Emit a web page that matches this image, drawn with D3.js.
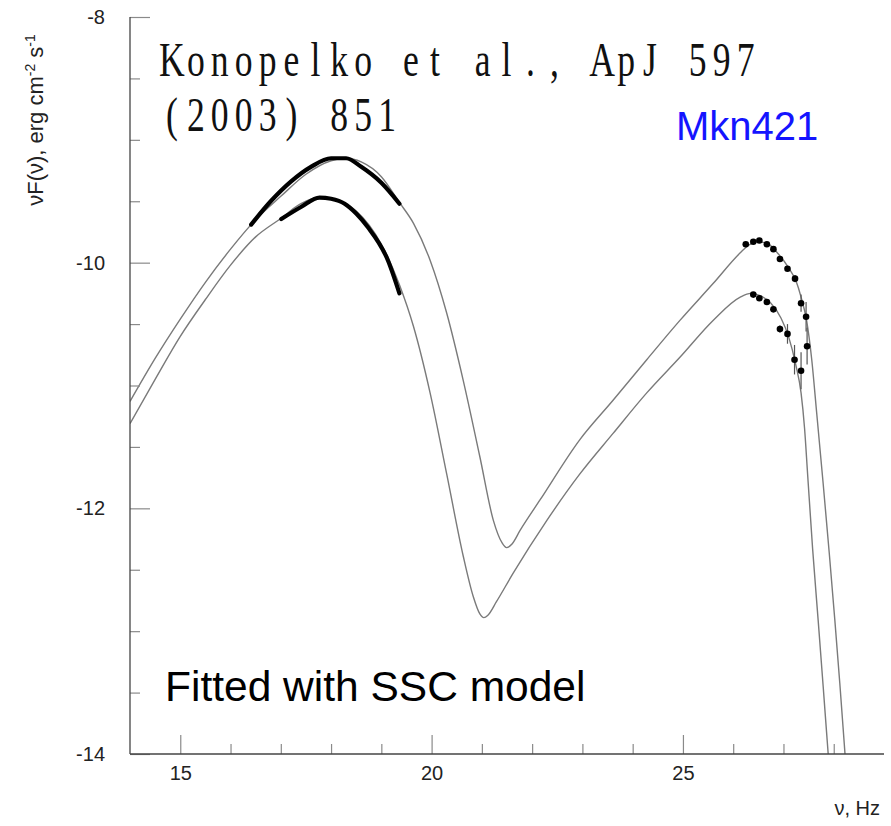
<!DOCTYPE html>
<html>
<head>
<meta charset="utf-8">
<script src="https://cdn.jsdelivr.net/npm/d3@7"></script>
<style>
  html, body { margin: 0; padding: 0; background: #fff; }
  svg { display: block; }
</style>
</head>
<body>
<svg id="chart" width="891" height="826"></svg>
<script>
// ---- data (log10 ν [Hz], log10 νF(ν) [erg cm^-2 s^-1]) ----
const upperModelX = [14.0, 14.5, 15.0, 15.5, 16.0, 16.5, 17.0, 17.5, 18.0, 18.3, 18.6, 19.0, 19.36, 19.64, 19.97, 20.30, 20.63, 20.96, 21.23, 21.40, 21.49, 21.60, 21.76, 22.16, 22.95, 23.61, 24.28, 24.94, 25.60, 26.14, 26.30, 26.50, 26.70, 26.90, 27.10, 27.25, 27.35, 27.46, 27.56, 27.66, 27.79, 27.91, 28.02, 28.12, 28.21, 28.26];
const upperModelY = [-11.13, -10.78, -10.46, -10.16, -9.89, -9.65, -9.46, -9.28, -9.17, -9.15, -9.18, -9.30, -9.51, -9.68, -9.98, -10.41, -10.96, -11.58, -12.10, -12.28, -12.32, -12.29, -12.18, -11.93, -11.44, -11.12, -10.79, -10.47, -10.17, -9.92, -9.86, -9.83, -9.85, -9.93, -10.04, -10.15, -10.28, -10.47, -10.78, -11.22, -11.80, -12.36, -12.90, -13.42, -13.92, -14.20];

const lowerModelX = [14.0, 14.5, 15.0, 15.5, 16.0, 16.5, 17.0, 17.4, 17.77, 18.1, 18.5, 19.0, 19.36, 19.64, 19.97, 20.30, 20.63, 20.83, 20.96, 21.04, 21.12, 21.29, 21.62, 22.29, 22.95, 23.61, 24.28, 24.94, 25.60, 26.14, 26.35, 26.55, 26.75, 26.95, 27.10, 27.25, 27.35, 27.42, 27.48, 27.58, 27.69, 27.79, 27.89, 27.95];
const lowerModelY = [-11.31, -10.95, -10.60, -10.30, -10.02, -9.79, -9.64, -9.52, -9.47, -9.49, -9.58, -9.85, -10.18, -10.52, -11.06, -11.72, -12.39, -12.72, -12.86, -12.89, -12.87, -12.76, -12.53, -12.10, -11.72, -11.39, -11.06, -10.77, -10.47, -10.28, -10.25, -10.27, -10.33, -10.45, -10.60, -10.84, -11.06, -11.35, -11.72, -12.33, -12.91, -13.45, -14.00, -14.30];

const upperXrayX = [16.41, 16.8, 17.2, 17.6, 18.0, 18.3, 18.6, 19.0, 19.36];
const upperXrayY = [-9.69, -9.50, -9.34, -9.22, -9.15, -9.15, -9.22, -9.35, -9.52];
const lowerXrayX = [17.01, 17.41, 17.77, 18.0, 18.27, 18.5, 18.73, 19.13, 19.36];
const lowerXrayY = [-9.645, -9.545, -9.47, -9.48, -9.52, -9.60, -9.71, -9.98, -10.25];

const upperTevX = [26.25, 26.40, 26.52, 26.67, 26.80, 26.93, 27.08, 27.23, 27.35, 27.45, 27.47];
const upperTevY = [-9.85, -9.83, -9.82, -9.85, -9.89, -9.97, -10.05, -10.13, -10.33, -10.44, -10.68];
const upperTevErr = [0, 0, 0, 0, 0, 0, 0, 0.03, 0.07, 0.12, 0.15];
const lowerTevX = [26.40, 26.52, 26.67, 26.80, 26.93, 27.08, 27.22, 27.35];
const lowerTevY = [-10.26, -10.29, -10.32, -10.38, -10.54, -10.58, -10.79, -10.88];
const lowerTevErr = [0, 0, 0, 0, 0.03, 0.08, 0.12, 0.15];

const xMajorTicks = [15, 20, 25];
const xMinorTicks = [16, 17, 18, 19, 21, 22, 23, 24, 26, 27, 28];
const yMajorTicks = [-14, -12, -10, -8];
const yMinorTicks = [-13.5, -13, -12.5, -11.5, -11, -10.5, -9.5, -9, -8.5];

const titleLines = ["Konopelko et al., ApJ 597", "(2003) 851"];
const sourceLabel = "Mkn421";
const noteLabel = "Fitted with SSC model";

// ---- drawing ----
const svg = d3.select("#chart");
const L = 130, R = 884, T = 17, B = 754;
const x = d3.scaleLinear().domain([14, 29]).range([L, R]);
const y = d3.scaleLinear().domain([-14, -8]).range([B, T]);

svg.append("defs").append("clipPath").attr("id", "plotclip")
  .append("rect").attr("x", L).attr("y", T).attr("width", R - L).attr("height", B - T);

const zip = (xs, ys) => xs.map((v, i) => [v, ys[i]]);
const line = d3.line().x(d => x(d[0])).y(d => y(d[1])).curve(d3.curveMonotoneX);

const plot = svg.append("g").attr("clip-path", "url(#plotclip)");

// model curves
[[upperModelX, upperModelY], [lowerModelX, lowerModelY]].forEach(([xs, ys]) => {
  plot.append("path").datum(zip(xs, ys))
    .attr("d", line).attr("fill", "none")
    .attr("stroke", "#7a7a7a").attr("stroke-width", 1.4);
});

// thick X-ray segments
[[upperXrayX, upperXrayY], [lowerXrayX, lowerXrayY]].forEach(([xs, ys]) => {
  plot.append("path").datum(zip(xs, ys))
    .attr("d", line).attr("fill", "none")
    .attr("stroke", "#000").attr("stroke-width", 4.2)
    .attr("stroke-linecap", "round");
});

// TeV points with error bars
[[upperTevX, upperTevY, upperTevErr], [lowerTevX, lowerTevY, lowerTevErr]].forEach(([xs, ys, es]) => {
  const pts = xs.map((v, i) => ({x: v, y: ys[i], e: es[i]}));
  plot.selectAll(null).data(pts.filter(d => d.e > 0)).enter().append("line")
    .attr("x1", d => x(d.x)).attr("x2", d => x(d.x))
    .attr("y1", d => y(d.y + d.e)).attr("y2", d => y(d.y - d.e))
    .attr("stroke", "#555").attr("stroke-width", 1.2);
  plot.selectAll(null).data(pts).enter().append("circle")
    .attr("cx", d => x(d.x)).attr("cy", d => y(d.y)).attr("r", 3.3)
    .attr("fill", "#000");
});

// axes
const fontAx = "'Liberation Sans', Arial, sans-serif";
const fmt = d => String(d);
const yMaj = svg.append("g").attr("transform", `translate(${L},0)`)
  .call(d3.axisLeft(y).tickValues(yMajorTicks).tickSize(-20).tickSizeOuter(0).tickPadding(25).tickFormat(fmt));
const yMin = svg.append("g").attr("transform", `translate(${L},0)`)
  .call(d3.axisLeft(y).tickValues(yMinorTicks).tickSize(-10).tickSizeOuter(0).tickFormat(""));
const xMaj = svg.append("g").attr("transform", `translate(0,${B})`)
  .call(d3.axisBottom(x).tickValues(xMajorTicks).tickSize(-19).tickSizeOuter(0).tickPadding(12).tickFormat(fmt));
const xMin = svg.append("g").attr("transform", `translate(0,${B})`)
  .call(d3.axisBottom(x).tickValues(xMinorTicks).tickSize(-10).tickSizeOuter(0).tickFormat(""));
[yMaj, yMin, xMaj, xMin].forEach(g => {
  g.select(".domain").remove();
  g.selectAll(".tick line").attr("stroke", "#8a8a8a").attr("stroke-width", 1.2);
  g.selectAll(".tick text").attr("font-family", fontAx).attr("font-size", 20).attr("fill", "#222");
});
// spines
svg.append("line").attr("x1", L).attr("x2", L).attr("y1", T).attr("y2", B)
  .attr("stroke", "#444").attr("stroke-width", 1.3);
svg.append("line").attr("x1", L).attr("x2", R).attr("y1", B).attr("y2", B)
  .attr("stroke", "#444").attr("stroke-width", 1.3);

// axis titles
const yt = svg.append("text")
  .attr("transform", "translate(43,120) rotate(-90)")
  .attr("text-anchor", "middle")
  .attr("font-family", fontAx).attr("font-size", 22).attr("fill", "#222");
yt.append("tspan").text("νF(ν), erg cm");
yt.append("tspan").attr("baseline-shift", "super").attr("font-size", 14).text("-2");
yt.append("tspan").text(" s");
yt.append("tspan").attr("baseline-shift", "super").attr("font-size", 14).text("-1");

svg.append("text").attr("x", 880).attr("y", 815).attr("text-anchor", "end")
  .attr("font-family", fontAx).attr("font-size", 20).attr("fill", "#222").text("ν, Hz");

// title (monospaced condensed serif look)
const sx = 0.72, cell = 23.9, startX = 160;
titleLines.forEach((s, li) => {
  const xs = Array.from(s).map((c, i) => (startX + cell * i + cell / 2) / sx);
  svg.append("text")
    .attr("transform", `scale(${sx},1)`)
    .attr("x", xs.join(" "))
    .attr("y", li === 0 ? 76 : 131)
    .attr("text-anchor", "middle")
    .attr("font-family", "'Liberation Serif', 'Times New Roman', serif")
    .attr("font-size", 49.5).attr("fill", "#111")
    .text(s);
});

svg.append("text").attr("x", 676).attr("y", 140)
  .attr("font-family", fontAx).attr("font-size", 40).attr("fill", "#1414ff").text(sourceLabel);

svg.append("text").attr("x", 165).attr("y", 701)
  .attr("font-family", fontAx).attr("font-size", 42.5).attr("fill", "#000").text(noteLabel);
</script>
</body>
</html>
